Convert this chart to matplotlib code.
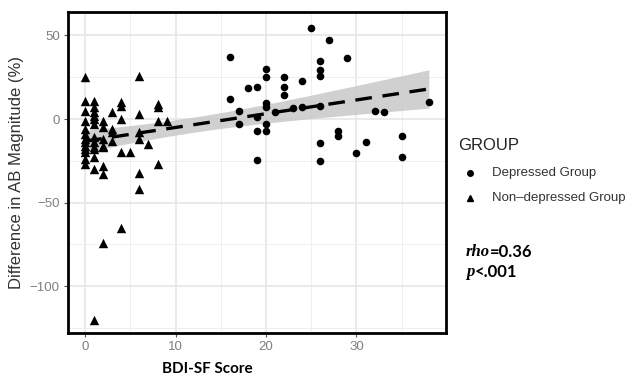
import numpy as np
import matplotlib
matplotlib.use("Agg")
import matplotlib.pyplot as plt

# ---- data ----
dep_x = [16, 16, 17, 17, 18, 19, 19, 19, 19, 20, 20, 20, 20, 20, 20, 21, 22, 22, 22, 23, 24, 24,
         25, 26, 26, 26, 26, 26, 26, 27, 28, 28, 29, 30, 31, 32, 33, 35, 35, 38]
dep_y = [36.8, 12, 4.5, -3, 18.3, 19.3, 1.4, -7, -24.5, 30.2, 25.3, 9.3, 7, -3, -7.4, 4, 25.3, 18.9, 14.3, 6.3, 22.9, 7.3,
         54.7, 34.8, 29.3, 25.9, 8, -14.3, -24.9, 47.4, -7, -10, 36.4, -20.5, -14, 5, 4, -10, -23, 10.3]
non_x = [0]*13 + [1]*13 + [2]*8 + [3]*4 + [4]*5 + [5] + [6]*6 + [7] + [8]*4 + [9]
non_y = [25, 11, 5, -1, -6, -9, -12, -14, -16, -18, -20, -24, -27,
         11, 7, 4, 2, 0, -3, -11, -14, -17, -18, -23, -30, -120,
         -1, -5, -12, -16, -17, -28, -33, -74,
         4, -6, -8, -13,
         10, 8, 0, -20, -65,
         -20,
         26, 3, -8, -12, -32, -42,
         -15,
         9, 7, -1, -27,
         -1]
x_ticks = [0, 10, 20, 30]
y_ticks = [-100, -50, 0, 50]

x_all = np.array(dep_x + non_x, float)
y_all = np.array(dep_y + non_y, float)
n = len(x_all)
b, a = np.polyfit(x_all, y_all, 1)
xs = np.linspace(x_all.min(), x_all.max(), 100)
ys = a + b * xs
res = y_all - (a + b * x_all)
s = np.sqrt(np.sum(res**2) / (n - 2))
sxx = np.sum((x_all - x_all.mean())**2)
se = s * np.sqrt(1.0 / n + (xs - x_all.mean())**2 / sxx)
tcrit = 1.98
lo, hi = ys - tcrit * se, ys + tcrit * se

fig = plt.figure(figsize=(6.29, 3.81), dpi=100)
ax = fig.add_axes([68/629, 1 - 333/381, (446-68)/629, (333-12)/381])
ax.set_xlim(-1.9, 39.9)
ax.set_ylim(-128, 64)
ax.set_xticks(x_ticks)
ax.set_yticks(y_ticks)
ax.set_xticks([5, 15, 25, 35], minor=True)
ax.set_yticks([-125, -75, -25, 25], minor=True)
ax.grid(True, which='major', color='#e6e6e6', lw=1.2, zorder=0)
ax.grid(True, which='minor', color='#efefef', lw=0.7, zorder=0)
ax.set_axisbelow(True)
for sp in ax.spines.values():
    sp.set_linewidth(2.0)
    sp.set_color('black')
ax.tick_params(which='major', length=3, width=0.8, color='#555555', labelcolor='#7f7f7f',
               labelsize=9.5, pad=3)
ax.tick_params(which='minor', length=0)
for lab in ax.get_xticklabels() + ax.get_yticklabels():
    lab.set_family('Liberation Sans')
ax.set_yticklabels(['\u2212100', '\u221250', '0', '50'])

ax.fill_between(xs, lo, hi, color='#c8c8c8', alpha=0.85, lw=0, zorder=2)
ax.plot(xs, ys, color='black', lw=2.4, dashes=(5, 3.2), zorder=4)
ax.scatter(dep_x, dep_y, marker='o', s=30, color='black', lw=0, zorder=3)
ax.scatter(non_x, non_y, marker='^', s=46, color='black', lw=0, zorder=3)

ax.set_ylabel('Difference in AB Magnitude (%)', family='Liberation Sans', fontsize=12,
              color='#333333', labelpad=4)
fig.text(207/629, 1 - 369/381, 'BDI-SF Score', family='Lato', fontweight='bold',
         fontsize=11, ha='center', va='center', color='black')

# legend
fig.text(458/629, 1 - 146/381, 'GROUP', family='Liberation Sans', fontsize=12,
         va='center', ha='left', color='#222222')
fig.lines.append(plt.Line2D([470/629], [1 - 173/381], marker='o', ms=4, color='black',
                            lw=0, transform=fig.transFigure))
fig.lines.append(plt.Line2D([470/629], [1 - 198/381], marker='^', ms=5, color='black',
                            lw=0, transform=fig.transFigure))
fig.text(492/629, 1 - 173/381, 'Depressed Group', family='Liberation Sans', fontsize=9.5,
         va='center', ha='left', color='#333333')
fig.text(492/629, 1 - 198/381, 'Non\u2013depressed Group', family='Liberation Sans', fontsize=9.5,
         va='center', ha='left', color='#333333')

# stats
fig.canvas.draw()
r = fig.canvas.get_renderer()
t1 = fig.text(466/629, 1 - 252/381, 'rho', family='Liberation Serif', style='italic',
              fontweight='bold', fontsize=12, va='center', ha='left')
bb = t1.get_window_extent(r)
fig.text(bb.x1 / fig.bbox.width, 1 - 252/381, '=0.36', family='Lato', fontweight='bold',
         fontsize=12, va='center', ha='left')
t2 = fig.text(466/629, 1 - 272/381, 'p', family='Liberation Serif', style='italic',
              fontweight='bold', fontsize=12, va='center', ha='left')
bb = t2.get_window_extent(r)
fig.text(bb.x1 / fig.bbox.width, 1 - 272/381, '<.001', family='Lato', fontweight='bold',
         fontsize=12, va='center', ha='left')

fig.savefig('out.png', dpi=100)
